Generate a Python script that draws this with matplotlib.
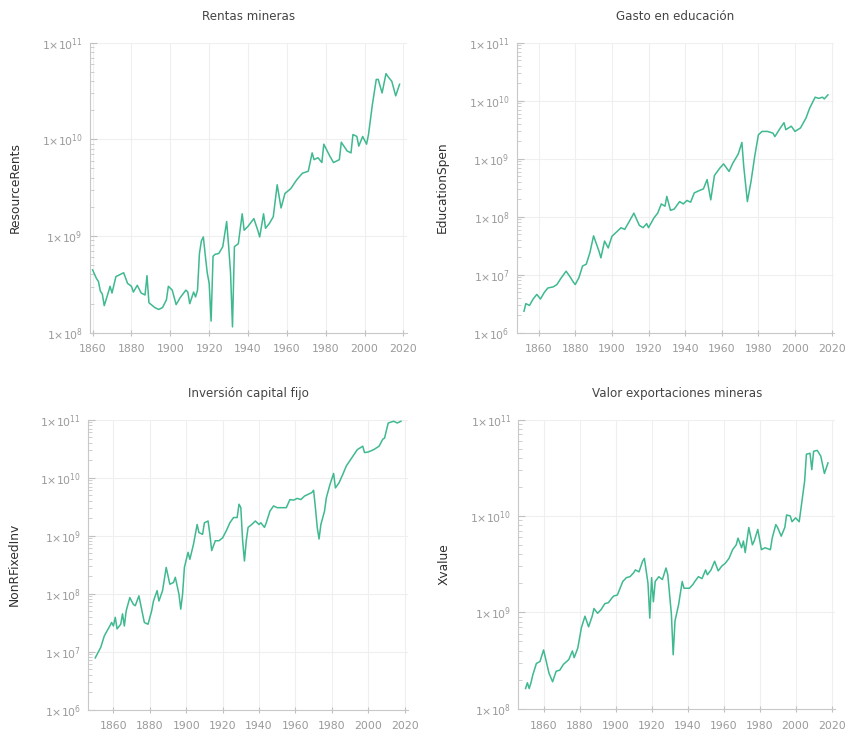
import matplotlib
matplotlib.use('Agg')
import matplotlib.pyplot as plt
import matplotlib.ticker as mticker
import numpy as np

# values, as log10 of the series value
rents_years = [1860, 1862, 1863, 1864, 1865, 1866, 1868, 1869, 1870, 1872, 1874, 1876, 1878, 1880,
               1881, 1883, 1885, 1887, 1888, 1889, 1892, 1894, 1896, 1898, 1899, 1901, 1903, 1905,
               1908, 1909, 1910, 1912, 1913, 1914, 1915, 1916, 1917, 1918, 1919, 1920, 1921, 1922,
               1923, 1925, 1927, 1929, 1930, 1931, 1932, 1933, 1935, 1937, 1938, 1940, 1943, 1945,
               1946, 1948, 1949, 1951, 1953, 1955, 1957, 1959, 1962, 1965, 1968, 1971, 1973, 1974,
               1976, 1978, 1979, 1982, 1984, 1987, 1988, 1991, 1993, 1994, 1996, 1997, 1999, 2001,
               2002, 2004, 2006, 2007, 2009, 2011, 2012, 2014, 2016, 2018]
rents_exp = [8.65, 8.56, 8.53, 8.43, 8.40, 8.28, 8.41, 8.48, 8.41, 8.58, 8.60, 8.62, 8.51, 8.48,
             8.42, 8.49, 8.41, 8.39, 8.59, 8.31, 8.26, 8.24, 8.26, 8.34, 8.48, 8.44, 8.29, 8.36,
             8.44, 8.42, 8.30, 8.42, 8.37, 8.44, 8.82, 8.95, 8.99, 8.80, 8.62, 8.51, 8.12, 8.79,
             8.81, 8.82, 8.89, 9.15, 8.90, 8.62, 8.06, 8.89, 8.92, 9.23, 9.06, 9.10, 9.18, 9.06,
             8.99, 9.23, 9.08, 9.13, 9.20, 9.53, 9.29, 9.44, 9.49, 9.58, 9.65, 9.67, 9.86, 9.79,
             9.81, 9.76, 9.95, 9.83, 9.76, 9.79, 9.97, 9.88, 9.86, 10.05, 10.03, 9.93, 10.03, 9.95,
             10.05, 10.36, 10.62, 10.62, 10.48, 10.68, 10.65, 10.60, 10.45, 10.57]

edu_years = [1852, 1853, 1855, 1857, 1859, 1861, 1863, 1865, 1868, 1870, 1872, 1875, 1877, 1879,
             1880, 1882, 1884, 1886, 1888, 1890, 1891, 1893, 1894, 1896, 1898, 1900, 1902, 1905,
             1907, 1909, 1912, 1915, 1917, 1919, 1920, 1923, 1925, 1927, 1929, 1930, 1932, 1934,
             1937, 1939, 1941, 1943, 1945, 1947, 1950, 1952, 1954, 1956, 1959, 1961, 1964, 1966,
             1969, 1971, 1972, 1974, 1976, 1978, 1980, 1982, 1985, 1988, 1989, 1992, 1994, 1995,
             1998, 2000, 2003, 2006, 2008, 2011, 2013, 2015, 2016, 2018]
edu_exp = [6.37, 6.50, 6.47, 6.58, 6.66, 6.58, 6.69, 6.77, 6.79, 6.83, 6.93, 7.06, 6.97, 6.87,
           6.83, 6.95, 7.15, 7.18, 7.38, 7.67, 7.58, 7.40, 7.29, 7.58, 7.46, 7.66, 7.72, 7.81,
           7.78, 7.89, 8.06, 7.85, 7.81, 7.88, 7.81, 7.98, 8.06, 8.22, 8.18, 8.35, 8.11, 8.13,
           8.26, 8.22, 8.28, 8.25, 8.41, 8.44, 8.48, 8.64, 8.29, 8.71, 8.84, 8.91, 8.78, 8.92,
           9.08, 9.28, 8.87, 8.26, 8.61, 9.04, 9.41, 9.47, 9.47, 9.44, 9.38, 9.53, 9.62, 9.50,
           9.56, 9.47, 9.53, 9.70, 9.87, 10.06, 10.04, 10.06, 10.03, 10.10]

inv_years = [1850, 1853, 1855, 1858, 1859, 1860, 1861, 1862, 1864, 1865, 1866, 1867, 1869, 1871,
             1872, 1874, 1876, 1877, 1879, 1881, 1882, 1884, 1885, 1887, 1889, 1891, 1893, 1894,
             1896, 1897, 1898, 1899, 1901, 1902, 1904, 1906, 1907, 1909, 1910, 1912, 1913, 1914,
             1916, 1918, 1920, 1922, 1924, 1926, 1928, 1929, 1930, 1931, 1932, 1933, 1934, 1936,
             1938, 1940, 1941, 1943, 1944, 1946, 1948, 1950, 1953, 1955, 1957, 1959, 1961, 1963,
             1965, 1967, 1969, 1970, 1971, 1972, 1973, 1974, 1976, 1977, 1979, 1981, 1982, 1984,
             1986, 1988, 1991, 1994, 1997, 1998, 2000, 2003, 2006, 2008, 2009, 2011, 2014, 2016,
             2018]
inv_exp = [6.89, 7.07, 7.27, 7.44, 7.50, 7.44, 7.59, 7.39, 7.47, 7.65, 7.44, 7.70, 7.93, 7.81,
           7.79, 7.96, 7.65, 7.50, 7.47, 7.70, 7.87, 8.05, 7.87, 8.05, 8.45, 8.16, 8.19, 8.28,
           7.99, 7.73, 7.99, 8.45, 8.71, 8.59, 8.85, 9.19, 9.05, 9.02, 9.22, 9.25, 9.02, 8.74,
           8.91, 8.91, 8.96, 9.08, 9.22, 9.31, 9.31, 9.54, 9.48, 8.91, 8.56, 8.91, 9.14, 9.19,
           9.25, 9.19, 9.22, 9.14, 9.22, 9.42, 9.51, 9.48, 9.48, 9.48, 9.62, 9.61, 9.64, 9.62,
           9.68, 9.71, 9.74, 9.78, 9.48, 9.14, 8.94, 9.19, 9.42, 9.65, 9.88, 10.07, 9.82, 9.91,
           10.05, 10.20, 10.34, 10.48, 10.54, 10.43, 10.44, 10.48, 10.54, 10.66, 10.68, 10.94, 10.97, 10.94,
           10.97]

xval_years = [1850, 1851, 1852, 1853, 1854, 1856, 1858, 1860, 1861, 1863, 1865, 1867, 1869, 1871,
              1874, 1876, 1877, 1879, 1881, 1883, 1885, 1887, 1888, 1890, 1892, 1894, 1896, 1898,
              1899, 1901, 1904, 1906, 1908, 1910, 1911, 1913, 1915, 1916, 1918, 1919, 1920, 1921,
              1922, 1924, 1926, 1928, 1929, 1931, 1932, 1933, 1935, 1937, 1938, 1941, 1943, 1944,
              1946, 1948, 1950, 1951, 1953, 1955, 1957, 1959, 1961, 1963, 1965, 1967, 1968, 1970,
              1971, 1972, 1974, 1976, 1977, 1979, 1981, 1983, 1986, 1987, 1989, 1990, 1992, 1994,
              1995, 1997, 1998, 2000, 2002, 2003, 2005, 2006, 2008, 2009, 2010, 2012, 2014, 2016,
              2018]
xval_exp = [8.21, 8.27, 8.21, 8.27, 8.35, 8.47, 8.49, 8.61, 8.53, 8.37, 8.28, 8.39, 8.40, 8.46,
            8.51, 8.60, 8.53, 8.63, 8.84, 8.96, 8.85, 8.96, 9.04, 8.99, 9.03, 9.09, 9.10, 9.15,
            9.17, 9.18, 9.32, 9.36, 9.37, 9.41, 9.44, 9.42, 9.53, 9.56, 9.30, 8.94, 9.36, 9.11,
            9.32, 9.37, 9.34, 9.46, 9.39, 8.98, 8.56, 8.91, 9.08, 9.32, 9.25, 9.25, 9.29, 9.32,
            9.37, 9.35, 9.44, 9.39, 9.44, 9.53, 9.43, 9.48, 9.51, 9.56, 9.65, 9.70, 9.77, 9.67,
            9.74, 9.62, 9.88, 9.70, 9.74, 9.86, 9.65, 9.67, 9.65, 9.77, 9.91, 9.88, 9.79, 9.88,
            10.01, 10.00, 9.94, 9.98, 9.94, 10.08, 10.36, 10.64, 10.65, 10.48, 10.67, 10.68, 10.62, 10.44,
            10.55]

titles = ['Rentas mineras', 'Gasto en educación', 'Inversión capital fijo', 'Valor exportaciones mineras']
ylabels = ['ResourceRents', 'EducationSpen', 'NonRFixedInv', 'Xvalue']
ylims = [(1e8, 1e11), (1e6, 1e11), (1e6, 1e11), (1e8, 1e11)]
xlims = [(1858.5, 2022), (1848, 2021.5), (1846, 2022), (1846, 2022)]

series = [(rents_years, rents_exp), (edu_years, edu_exp), (inv_years, inv_exp), (xval_years, xval_exp)]

# axes boxes in figure fractions [left, bottom, width, height]
boxes = [[0.105, 0.548, 0.372, 0.394],
         [0.605, 0.548, 0.372, 0.394],
         [0.103, 0.036, 0.375, 0.394],
         [0.607, 0.037, 0.371, 0.393]]

line_color = '#3fb98f'
tick_color = '#9a9a9a'


def sci_fmt(v, pos):
    return r'$1{\times}10^{%d}$' % int(round(np.log10(v)))


fig = plt.figure(figsize=(8.54, 7.36), dpi=100)

for i in range(4):
    ax = fig.add_axes(boxes[i])
    yrs, ex = series[i]
    ax.plot(yrs, 10 ** np.array(ex), color=line_color, lw=1.1)
    ax.set_yscale('log')
    ax.set_ylim(*ylims[i])
    ax.set_xlim(*xlims[i])
    ax.xaxis.set_major_locator(mticker.MultipleLocator(20))
    ax.yaxis.set_major_locator(mticker.LogLocator(base=10, numticks=10))
    ax.yaxis.set_minor_locator(mticker.LogLocator(base=10, subs=np.arange(2, 10), numticks=10))
    ax.yaxis.set_minor_formatter(mticker.NullFormatter())
    ax.yaxis.set_major_formatter(mticker.FuncFormatter(sci_fmt))

    ax.grid(True, which='major', color='#efefef', lw=0.8)
    ax.set_axisbelow(True)
    for s in ['top', 'right']:
        ax.spines[s].set_visible(False)
    for s in ['left', 'bottom']:
        ax.spines[s].set_color('#c8c8c8')
        ax.spines[s].set_linewidth(0.8)

    ax.tick_params(axis='x', which='major', direction='inout', length=5, width=0.8,
                   colors='#c0c0c0', labelcolor=tick_color, labelsize=7.8, pad=6)
    ax.tick_params(axis='y', which='major', direction='in', length=5, width=0.8,
                   colors='#c0c0c0', labelcolor=tick_color, labelsize=7.8, pad=5)
    ax.tick_params(axis='y', which='minor', direction='in', length=3, width=0.6, colors='#c8c8c8')

    ax.set_title(titles[i], fontsize=8.6, color='#444444', pad=16)
    ax.set_ylabel(ylabels[i], fontsize=8.8, color='#303030', labelpad=14)

fig.savefig('out.png', dpi=100)
